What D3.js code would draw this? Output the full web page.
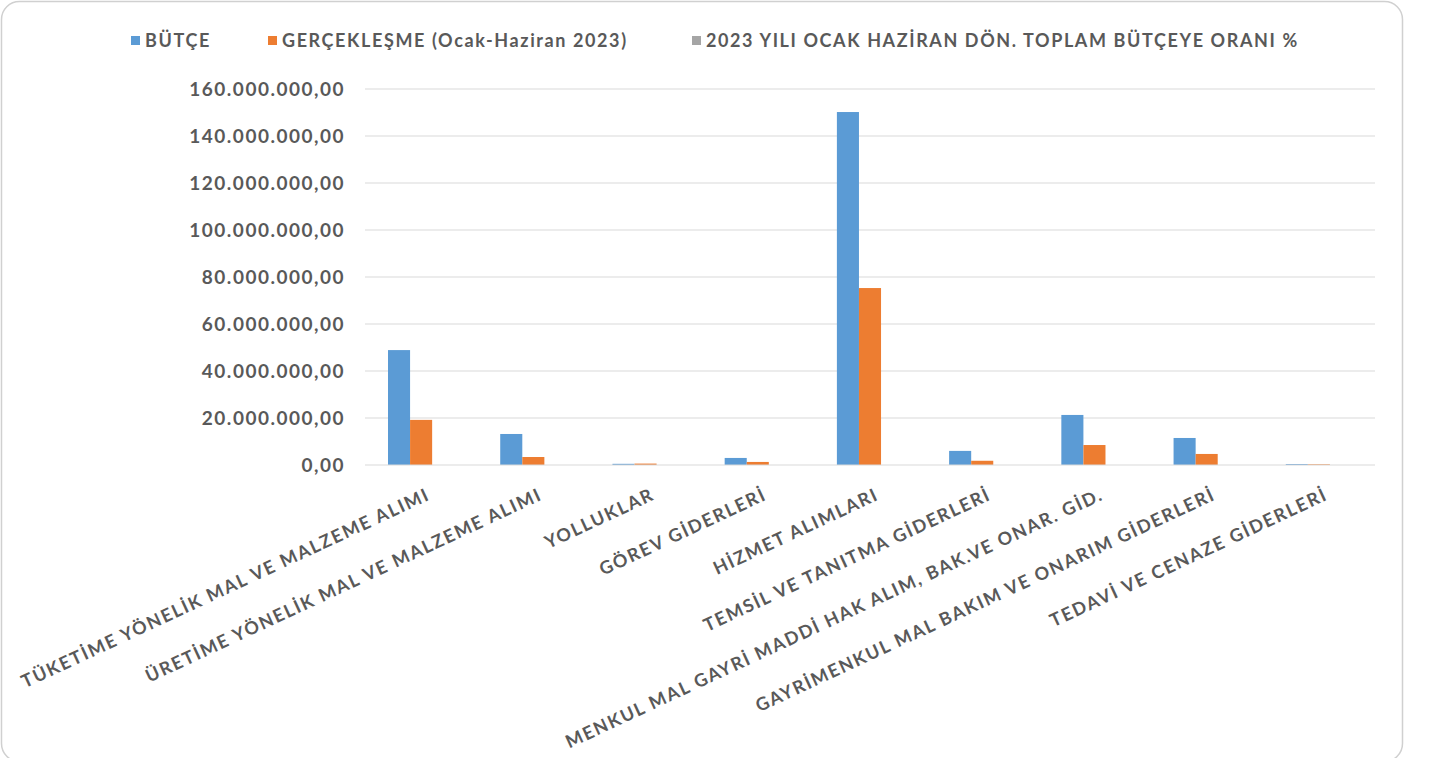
<!DOCTYPE html>
<html><head><meta charset="utf-8">
<script src="https://cdn.jsdelivr.net/npm/d3@7"></script>
<style>body{margin:0;background:#fff}svg{display:block}</style>
</head><body>
<svg id="c" width="1432" height="758"></svg>
<script>
const categories = ["TÜKETİME YÖNELİK MAL VE MALZEME ALIMI","ÜRETİME YÖNELİK MAL VE MALZEME ALIMI","YOLLUKLAR","GÖREV GİDERLERİ","HİZMET ALIMLARI","TEMSİL VE TANITMA GİDERLERİ","MENKUL MAL GAYRİ MADDİ HAK ALIM, BAK.VE ONAR. GİD.","GAYRİMENKUL MAL BAKIM VE ONARIM GİDERLERİ","TEDAVİ VE CENAZE GİDERLERİ"];
const seriesNames = ["BÜTÇE","GERÇEKLEŞME (Ocak-Haziran 2023)","2023 YILI OCAK HAZİRAN DÖN. TOPLAM BÜTÇEYE ORANI %"];
const butce = [48900000,13200000,500000,3000000,150200000,6000000,21300000,11500000,400000];
const gerceklesme = [19200000,3400000,600000,1300000,75300000,1800000,8500000,4700000,300000];
const oran = [40,26,50,43,50,30,40,41,30];
const yTicks = [0,20000000,40000000,60000000,80000000,100000000,120000000,140000000,160000000];
const colors = ["#5b9bd5","#ed7d31","#a5a5a5"];

const svg = d3.select("#c");
const font = "Lato, 'Open Sans', sans-serif";
const txt = "#595959";

svg.append("rect").attr("x",1.5).attr("y",1.5).attr("width",1401).attr("height",760)
  .attr("rx",18).attr("fill","#fff").attr("stroke","#d0d0d0").attr("stroke-width",1.5);

const pLeft = 365, pRight = 1375, pTop = 89, pBottom = 465;
const x = d3.scaleBand().domain(categories).range([pLeft,pRight]).paddingInner(0.41).paddingOuter(0.205);
const xs = d3.scaleBand().domain([0,1,2]).range([0,x.bandwidth()]);
const y = d3.scaleLinear().domain([0,160000000]).range([pBottom,pTop]);

const fmt = v => d3.format(",.2f")(v).replace(/,/g,"#").replace(/\./g,",").replace(/#/g,".");

// grid
svg.append("g").selectAll("line").data(yTicks.filter(t=>t>0)).join("line")
  .attr("x1",pLeft).attr("x2",pRight).attr("y1",d=>y(d)).attr("y2",d=>y(d))
  .attr("stroke","#d9d9d9").attr("stroke-width",1);

// y axis labels
const yAxis = d3.axisLeft(y).tickValues(yTicks).tickFormat(fmt).tickSize(0).tickPadding(20);
const ya = svg.append("g").attr("transform",`translate(${pLeft},0)`).call(yAxis);
ya.select(".domain").remove();
ya.selectAll("text").attr("font-family",font).attr("font-weight","bold").attr("font-size",19)
  .attr("letter-spacing","1.5px").attr("fill",txt);

// bars
const series = [butce,gerceklesme,oran];
series.forEach((s,si)=>{
  svg.append("g").selectAll("rect").data(s).join("rect")
    .attr("x",(d,i)=>x(categories[i])+xs(si))
    .attr("width",xs.bandwidth())
    .attr("y",d=>y(d)).attr("height",d=>y(0)-y(d))
    .attr("fill",colors[si]);
});

// baseline
svg.append("line").attr("x1",pLeft).attr("x2",pRight).attr("y1",y(0)).attr("y2",y(0))
  .attr("stroke","#d9d9d9").attr("stroke-width",1);

// x labels
const xa = d3.axisBottom(x).tickSize(0).tickPadding(0);
const xg = svg.append("g").attr("transform",`translate(0,${pBottom})`).call(xa);
xg.select(".domain").remove();
xg.selectAll("text")
  .attr("font-family",font).attr("font-weight","bold").attr("font-size",18).attr("letter-spacing","1.7px")
  .attr("fill",txt)
  .attr("text-anchor","end").attr("dy",0).attr("y",0)
  .attr("transform","translate(10,34) rotate(-25)");

// legend
const legX = [131,268,692];
const lg = svg.append("g");
seriesNames.forEach((n,i)=>{
  lg.append("rect").attr("x",legX[i]).attr("y",36).attr("width",9).attr("height",9).attr("fill",colors[i]);
  lg.append("text").attr("x",legX[i]+14).attr("y",47).text(n)
    .attr("font-family",font).attr("font-weight","bold").attr("font-size",18).attr("letter-spacing","1.6px").attr("fill",txt);
});
</script>
</body></html>
